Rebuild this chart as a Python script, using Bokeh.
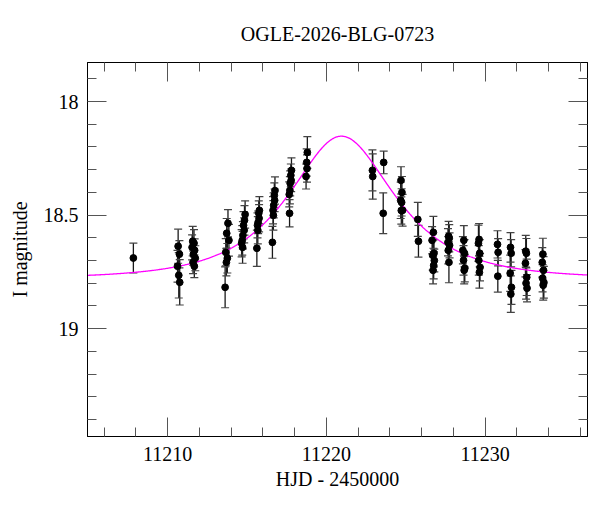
import numpy as np
from bokeh.plotting import figure
from bokeh.models import (ColumnDataSource, Whisker, TeeHead, Range1d, FixedTicker,
                          LinearAxis, CustomJSTickFormatter)
from bokeh.embed import file_html
from bokeh.resources import INLINE

# ---------------- data ----------------
title_text = "OGLE-2026-BLG-0723"
x_label = "HJD - 2450000"
y_label = "I magnitude"

hjd = [
    11207.84,
    11210.66, 11210.74, 11210.62, 11210.70, 11210.76,
    11211.58, 11211.66, 11211.54, 11211.70, 11211.62, 11211.74, 11211.60, 11211.68,
    11213.80, 11213.72, 11213.86, 11213.66, 11213.76, 11213.70, 11213.62,
    11214.88, 11214.84, 11214.78, 11214.82, 11214.74, 11214.70, 11214.66, 11214.72,
    11215.78, 11215.74, 11215.76, 11215.70, 11215.66, 11215.68, 11215.62,
    11216.76, 11216.72, 11216.74, 11216.68, 11216.64, 11216.66, 11216.60,
    11217.80, 11217.76, 11217.78, 11217.72, 11217.70, 11217.66, 11217.68,
    11218.80, 11218.76, 11218.78, 11218.72,
    11222.90, 11222.92,
    11223.61, 11223.58,
    11224.70, 11224.76, 11224.68, 11224.74, 11224.80, 11224.72,
    11225.76, 11225.80,
    11226.74, 11226.66, 11226.78, 11226.70, 11226.76, 11226.72, 11226.80,
    11227.70, 11227.74, 11227.66, 11227.76, 11227.68, 11227.72,
    11228.66, 11228.60, 11228.70, 11228.64, 11228.72, 11228.68,
    11229.62, 11229.58, 11229.66, 11229.60, 11229.68, 11229.64,
    11230.78, 11230.82, 11230.80,
    11231.60, 11231.64, 11231.58, 11231.66, 11231.62,
    11232.56, 11232.60, 11232.54, 11232.62, 11232.58, 11232.64,
    11233.64, 11233.60, 11233.68, 11233.62, 11233.70, 11233.66,
]
mag = [
    18.689,
    18.637, 18.672, 18.725, 18.765, 18.796,
    18.615, 18.624, 18.642, 18.655, 18.672, 18.690, 18.708, 18.725,
    18.536, 18.580, 18.611, 18.664, 18.690, 18.708, 18.818,
    18.497, 18.523, 18.545, 18.567, 18.589, 18.611, 18.624, 18.642,
    18.479, 18.492, 18.514, 18.532, 18.545, 18.567, 18.646,
    18.392, 18.413, 18.435, 18.457, 18.479, 18.501, 18.620,
    18.303, 18.325, 18.347, 18.360, 18.391, 18.409, 18.492,
    18.224, 18.268, 18.295, 18.330,
    18.303, 18.330,
    18.268, 18.492,
    18.347, 18.400, 18.435, 18.444, 18.479, 18.480,
    18.519, 18.615,
    18.576, 18.611, 18.668, 18.677, 18.721, 18.743, 18.700,
    18.593, 18.602, 18.620, 18.633, 18.655, 18.708,
    18.611, 18.655, 18.668, 18.699, 18.734, 18.743,
    18.607, 18.624, 18.668, 18.699, 18.730, 18.752,
    18.629, 18.664, 18.769,
    18.642, 18.668, 18.756, 18.818, 18.848,
    18.659, 18.668, 18.712, 18.774, 18.800, 18.822,
    18.672, 18.708, 18.743, 18.778, 18.796, 18.809,
]
err = [
    0.066,
    0.075, 0.060, 0.070, 0.100, 0.100,
    0.065, 0.060, 0.055, 0.050, 0.050, 0.055, 0.050, 0.050,
    0.060, 0.065, 0.070, 0.060, 0.065, 0.060, 0.090,
    0.060, 0.065, 0.060, 0.055, 0.060, 0.065, 0.060, 0.070,
    0.060, 0.055, 0.060, 0.050, 0.055, 0.060, 0.080,
    0.060, 0.055, 0.050, 0.055, 0.060, 0.065, 0.070,
    0.055, 0.050, 0.050, 0.055, 0.060, 0.055, 0.060,
    0.070, 0.060, 0.060, 0.055,
    0.090, 0.100,
    0.050, 0.090,
    0.060, 0.070, 0.080, 0.060, 0.070, 0.060,
    0.075, 0.070,
    0.070, 0.060, 0.060, 0.065, 0.060, 0.060, 0.050,
    0.065, 0.060, 0.060, 0.055, 0.060, 0.090,
    0.065, 0.060, 0.060, 0.065, 0.060, 0.060,
    0.070, 0.080, 0.060, 0.065, 0.060, 0.070,
    0.060, 0.060, 0.070,
    0.065, 0.060, 0.080, 0.075, 0.080,
    0.070, 0.065, 0.060, 0.080, 0.070, 0.060,
    0.070, 0.065, 0.060, 0.060, 0.070, 0.065,
]

# point-lens model fit (magenta curve) parameters
T0 = 11220.95
TE = 5.1
U0 = 0.645
BASE_MAG = 18.78

x_major = [11210, 11220, 11230]
x_minor = [11206, 11208, 11212, 11214, 11216, 11218, 11222, 11224, 11226, 11228,
           11232, 11234, 11236]
y_major = [18.0, 18.5, 19.0]
y_major_labels = ["18", "18.5", "19"]
y_minor = [17.9, 18.1, 18.2, 18.3, 18.4, 18.6, 18.7, 18.8, 18.9, 19.1, 19.2, 19.3, 19.4]

X_RANGE = (11204.95, 11236.45)
Y_RANGE = (19.475, 17.828)

# ---------------- figure ----------------
FONT = "Liberation Serif"

p = figure(width=600, height=512, output_backend="svg", toolbar_location=None,
           x_range=Range1d(*X_RANGE), y_range=Range1d(*Y_RANGE),
           min_border_left=87, min_border_right=13, min_border_top=62,
           min_border_bottom=76)
p.background_fill_color = "white"
p.border_fill_color = "white"
p.outline_line_color = "black"
p.outline_line_width = 1
p.xgrid.visible = False
p.ygrid.visible = False

p.title.text = title_text
p.title.text_font = FONT
p.title.text_font_size = "20px"
p.title.text_font_style = "normal"
p.title.align = "center"
p.title.text_color = "black"

# model curve
t = np.linspace(X_RANGE[0], X_RANGE[1], 800)
u = np.sqrt(U0 ** 2 + ((t - T0) / TE) ** 2)
A = (u ** 2 + 2) / (u * np.sqrt(u ** 2 + 4))
model_mag = BASE_MAG - 2.5 * np.log10(A)
p.line(t, model_mag, line_color="#ff00ff", line_width=1.3)

# data with error bars
hjd_a = np.array(hjd)
mag_a = np.array(mag)
err_a = np.array(err)
src = ColumnDataSource(data=dict(x=hjd_a, y=mag_a, lo=mag_a - err_a, hi=mag_a + err_a))
wh = Whisker(base="x", lower="lo", upper="hi", source=src, dimension="height",
             line_color="#1a1a1a", line_width=1.3,
             upper_head=TeeHead(size=8, line_color="#444444", line_width=1.2),
             lower_head=TeeHead(size=8, line_color="#444444", line_width=1.2))
p.add_layout(wh)
p.scatter("x", "y", source=src, size=6.8, color="black")

xt = FixedTicker(ticks=x_major, minor_ticks=x_minor)
yt = FixedTicker(ticks=y_major, minor_ticks=y_minor)
p.xaxis.ticker = xt
p.yaxis.ticker = yt
p.yaxis.major_label_overrides = {v: s for v, s in zip(y_major, y_major_labels)}

def style_axis(ax):
    ax.major_tick_in = 19
    ax.major_tick_out = 0
    ax.minor_tick_in = 9
    ax.minor_tick_out = 0
    ax.major_tick_line_color = "#555555"
    ax.minor_tick_line_color = "#555555"
    ax.axis_line_color = "black"
    ax.major_label_text_font = FONT
    ax.major_label_text_font_size = "20px"
    ax.major_label_text_color = "black"
    ax.axis_label_text_font = FONT
    ax.axis_label_text_font_size = "20px"
    ax.axis_label_text_font_style = "normal"
    ax.axis_label_text_color = "black"

for ax in (p.xaxis[0], p.yaxis[0]):
    style_axis(ax)
p.xaxis.axis_label = x_label
p.yaxis.axis_label = y_label
p.xaxis.major_label_standoff = 10
p.xaxis.axis_label_standoff = 4
p.yaxis.major_label_standoff = 9
p.yaxis.axis_label_standoff = 10

empty = CustomJSTickFormatter(code="return ''")
top = LinearAxis(ticker=FixedTicker(ticks=x_major, minor_ticks=x_minor), formatter=empty)
right = LinearAxis(ticker=FixedTicker(ticks=y_major, minor_ticks=y_minor), formatter=empty)
for ax in (top, right):
    style_axis(ax)
    ax.major_label_text_font_size = "0px"
    ax.major_label_standoff = 0
# invisible spacer label on the top axis to lift the title
top.axis_label = "\u00a0"
top.axis_label_text_font_size = "9px"
top.axis_label_standoff = 0
top.axis_label_text_alpha = 0
p.add_layout(top, "above")
p.add_layout(right, "right")

open("out.html", "w").write(file_html(p, INLINE))
